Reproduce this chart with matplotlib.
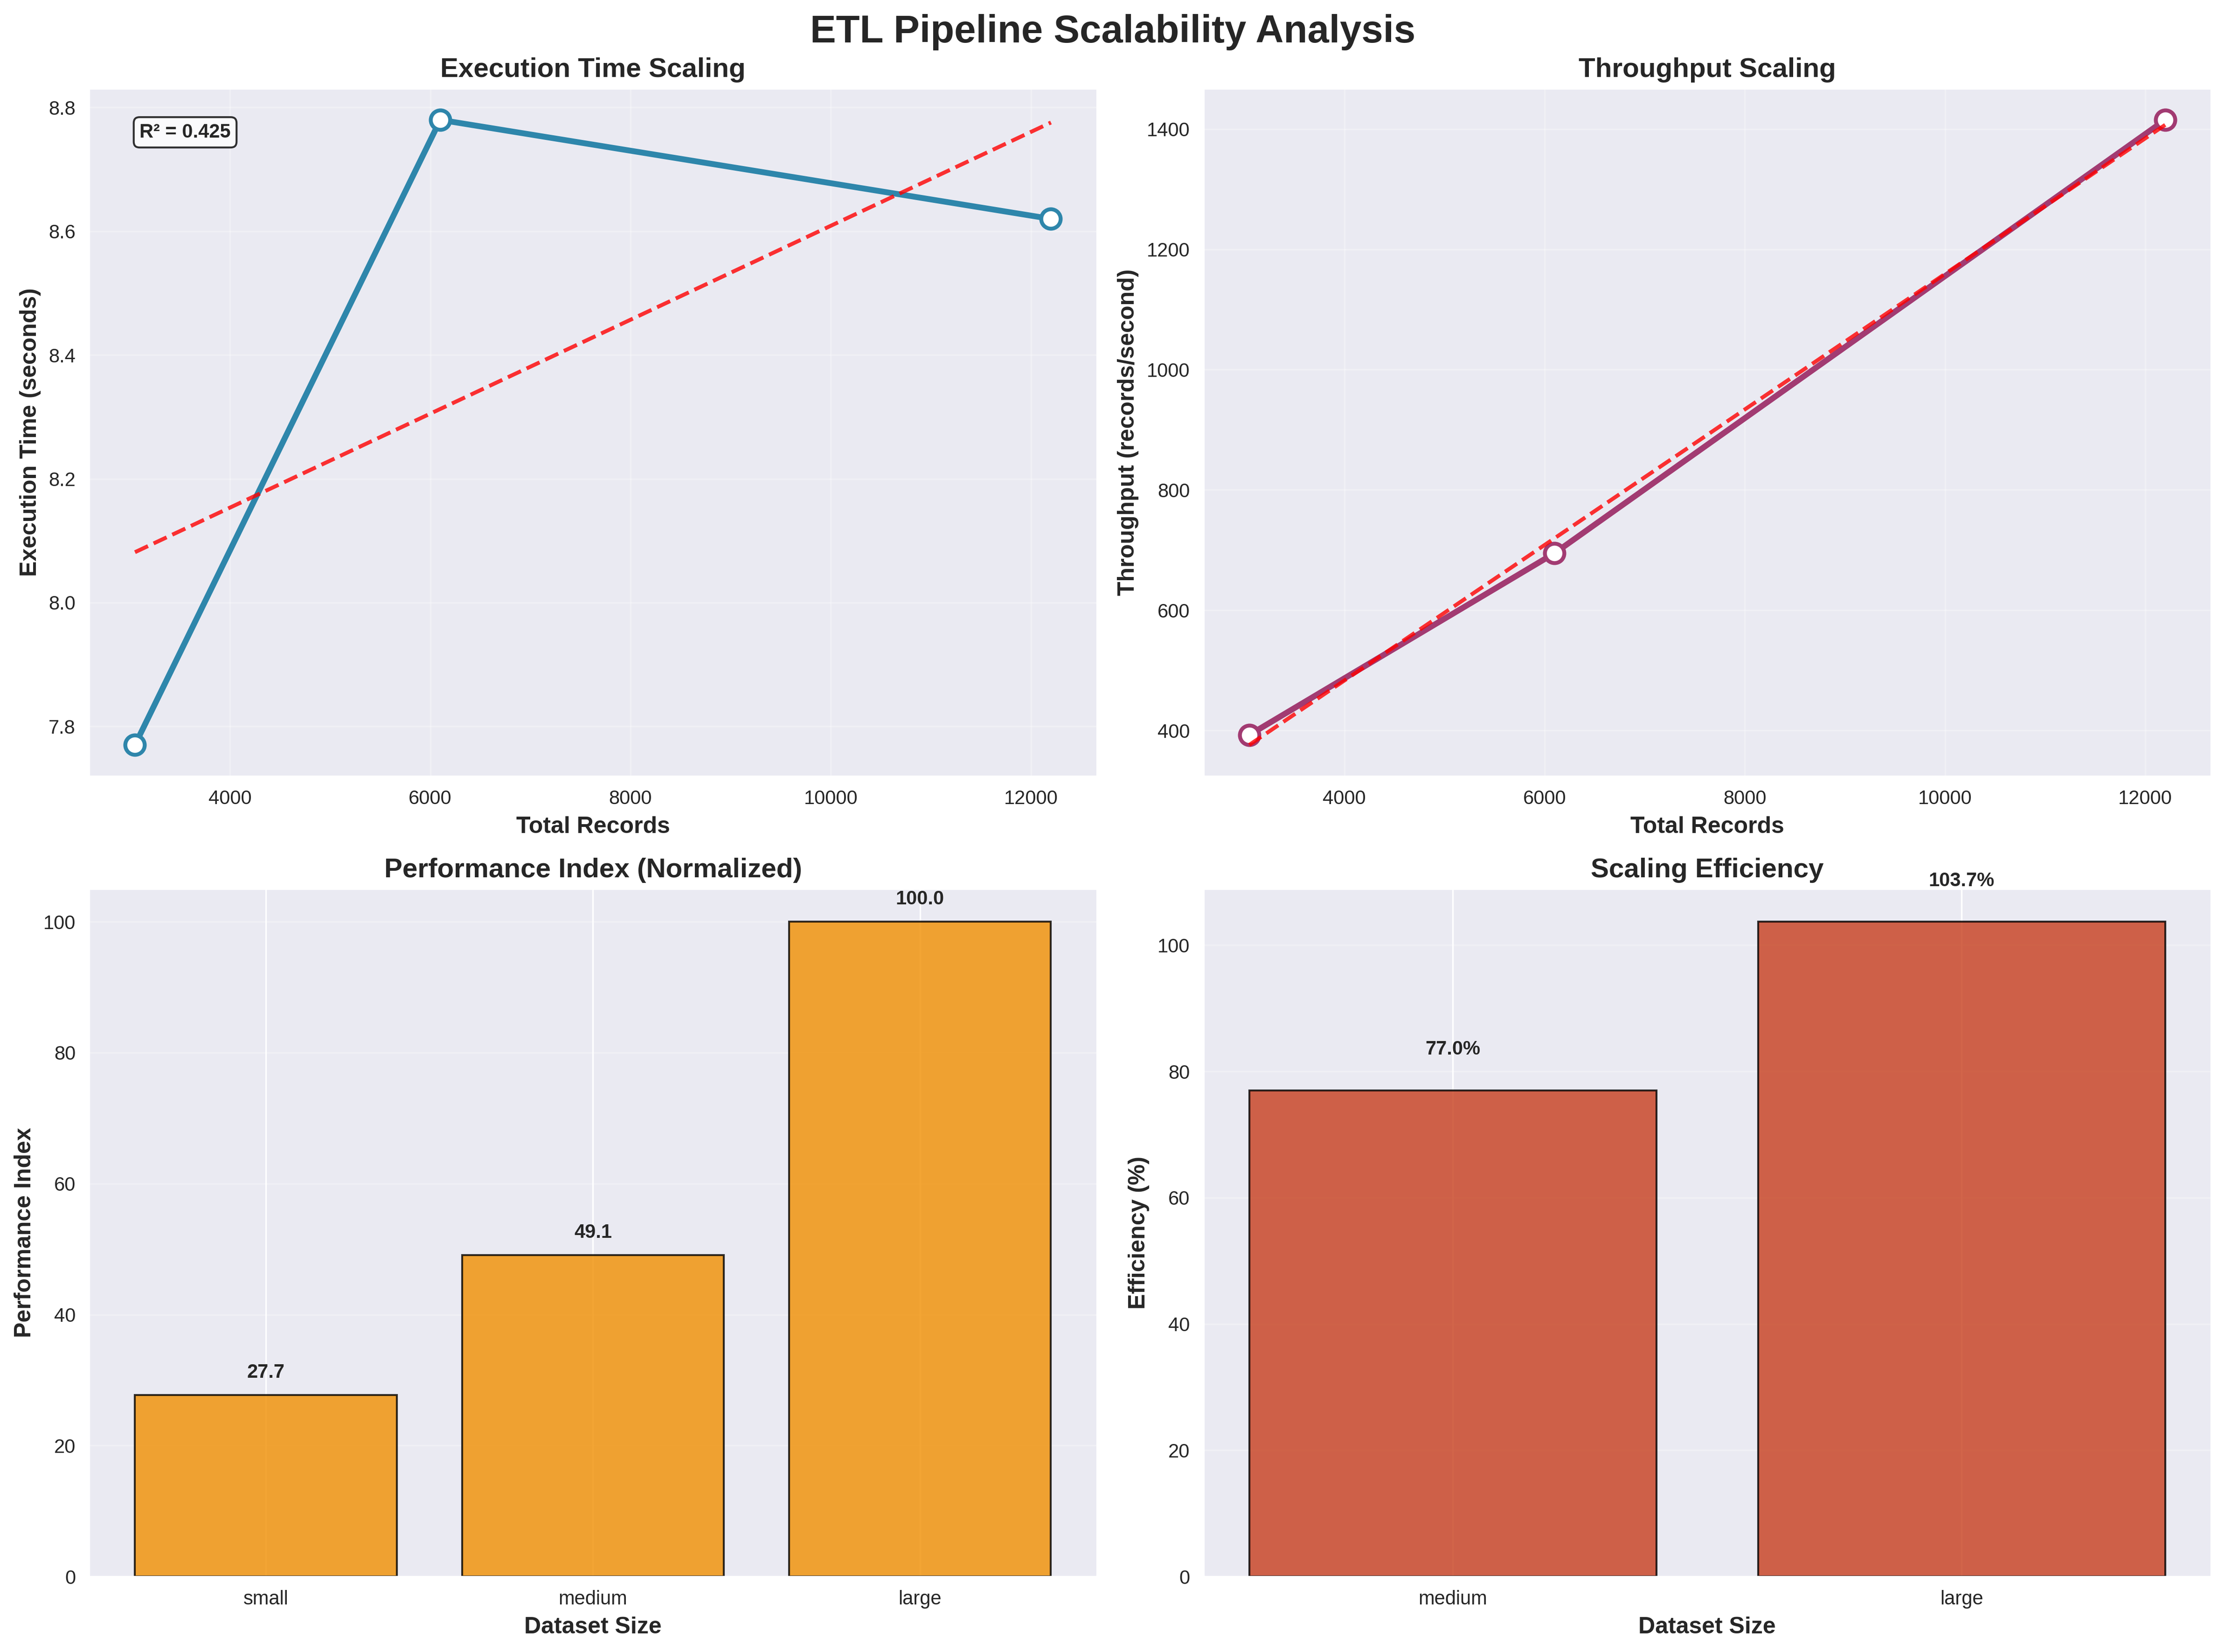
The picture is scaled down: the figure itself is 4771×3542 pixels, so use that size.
import numpy as np
import matplotlib
matplotlib.use('Agg')
import matplotlib.pyplot as plt
import seaborn as sns

sns.set_style('darkgrid')
plt.rcParams['font.family'] = ['Liberation Sans', 'DejaVu Sans']

# ---- data ----
total_records   = [3050, 6100, 12200]
exec_time       = [7.77, 8.78, 8.62]
r_squared       = 0.425
throughput      = [392.5, 694.8, 1415.3]
dataset_sizes   = ['small', 'medium', 'large']
perf_index      = [27.7, 49.1, 100.0]
eff_sizes       = ['medium', 'large']
efficiency      = [77.0, 103.7]

fig, axes = plt.subplots(2, 2, figsize=(16, 12))
fig.suptitle('ETL Pipeline Scalability Analysis', fontsize=20, fontweight='bold')

# ---- execution time ----
ax = axes[0, 0]
x = np.array(total_records, dtype=float)
y = np.array(exec_time)
ax.plot(x, y, 'o-', color='#2E86AB', linewidth=3, markersize=10,
        markerfacecolor='white', markeredgewidth=2)
z = np.polyfit(x, y, 1)
ax.plot(x, np.polyval(z, x), 'r--', alpha=0.8, linewidth=2)
ax.text(0.05, 0.95, f'R² = {r_squared:.3f}', transform=ax.transAxes, fontsize=10,
        fontweight='bold', va='top',
        bbox=dict(boxstyle='round', facecolor='white', edgecolor='black', alpha=0.8))
ax.set_title('Execution Time Scaling', fontsize=14, fontweight='bold')
ax.set_xlabel('Total Records', fontsize=12, fontweight='bold')
ax.set_ylabel('Execution Time (seconds)', fontsize=12, fontweight='bold')
ax.grid(True, alpha=0.3)

# ---- throughput ----
ax = axes[0, 1]
t = np.array(throughput)
ax.plot(x, t, 'o-', color='#A23B72', linewidth=3, markersize=10,
        markerfacecolor='white', markeredgewidth=2)
z = np.polyfit(x, t, 1)
ax.plot(x, np.polyval(z, x), 'r--', alpha=0.8, linewidth=2)
ax.set_title('Throughput Scaling', fontsize=14, fontweight='bold')
ax.set_xlabel('Total Records', fontsize=12, fontweight='bold')
ax.set_ylabel('Throughput (records/second)', fontsize=12, fontweight='bold')
ax.grid(True, alpha=0.3)

# ---- performance index ----
ax = axes[1, 0]
bars = ax.bar(dataset_sizes, perf_index, color='#F18F01', alpha=0.8, edgecolor='black')
for b, v in zip(bars, perf_index):
    ax.text(b.get_x() + b.get_width() / 2, v + 2, f'{v:.1f}',
            ha='center', va='bottom', fontweight='bold')
ax.set_title('Performance Index (Normalized)', fontsize=14, fontweight='bold')
ax.set_xlabel('Dataset Size', fontsize=12, fontweight='bold')
ax.set_ylabel('Performance Index', fontsize=12, fontweight='bold')
ax.grid(True, alpha=0.3, axis='y')

# ---- scaling efficiency ----
ax = axes[1, 1]
bars = ax.bar(eff_sizes, efficiency, color='#C73E1D', alpha=0.8, edgecolor='black')
for b, v in zip(bars, efficiency):
    ax.text(b.get_x() + b.get_width() / 2, v + 5, f'{v:.1f}%',
            ha='center', va='bottom', fontweight='bold')
ax.set_title('Scaling Efficiency', fontsize=14, fontweight='bold')
ax.set_xlabel('Dataset Size', fontsize=12, fontweight='bold')
ax.set_ylabel('Efficiency (%)', fontsize=12, fontweight='bold')
ax.grid(True, alpha=0.3, axis='y')

plt.tight_layout()
plt.savefig('out.png', dpi=300, bbox_inches='tight')
plt.close()
